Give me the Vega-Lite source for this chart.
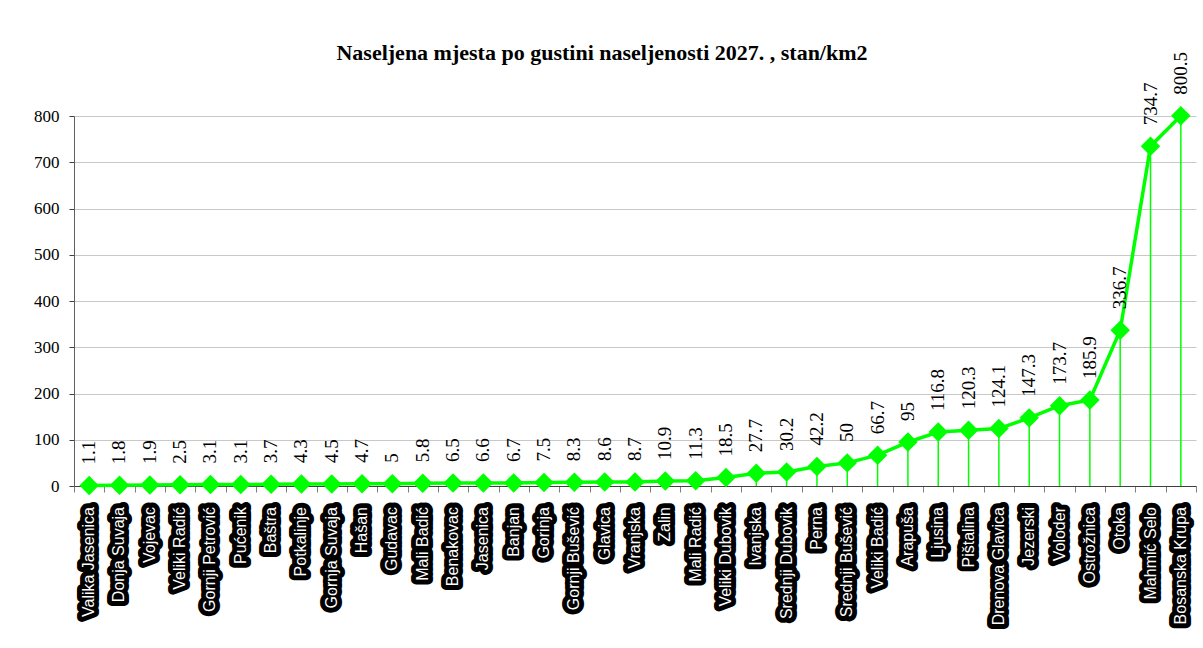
{
  "$schema": "https://vega.github.io/schema/vega-lite/v6.json",
  "autosize": {"type": "none"},
  "padding": {"left": 74, "top": 116, "right": 7, "bottom": 162},
  "width": 1122,
  "height": 370,
  "background": "white",
  "title": {
    "text": "Naseljena mjesta po gustini naseljenosti 2027. , stan/km2",
    "font": "Liberation Serif",
    "fontSize": 22,
    "fontWeight": "bold",
    "color": "black",
    "anchor": "middle",
    "dx": -33,
    "offset": -13
  },
  "config": {
    "view": {"stroke": null},
    "axis": {"labelFont": "Liberation Serif", "labelColor": "black"}
  },
  "data": {
    "values": [
      {"naselje": "Valika Jasenica", "gustina": 1.1},
      {"naselje": "Donja Suvaja", "gustina": 1.8},
      {"naselje": "Vojevac", "gustina": 1.9},
      {"naselje": "Veliki Radić", "gustina": 2.5},
      {"naselje": "Gornji Petrović", "gustina": 3.1},
      {"naselje": "Pućenik", "gustina": 3.1},
      {"naselje": "Baštra", "gustina": 3.7},
      {"naselje": "Potkalinje", "gustina": 4.3},
      {"naselje": "Gornja Suvaja", "gustina": 4.5},
      {"naselje": "Hašan", "gustina": 4.7},
      {"naselje": "Gudavac", "gustina": 5},
      {"naselje": "Mali Badić", "gustina": 5.8},
      {"naselje": "Benakovac", "gustina": 6.5},
      {"naselje": "Jasenica", "gustina": 6.6},
      {"naselje": "Banjan", "gustina": 6.7},
      {"naselje": "Gorinja", "gustina": 7.5},
      {"naselje": "Gornji Bušević", "gustina": 8.3},
      {"naselje": "Glavica", "gustina": 8.6},
      {"naselje": "Vranjska", "gustina": 8.7},
      {"naselje": "Zalin", "gustina": 10.9},
      {"naselje": "Mali Radić", "gustina": 11.3},
      {"naselje": "Veliki Dubovik", "gustina": 18.5},
      {"naselje": "Ivanjska", "gustina": 27.7},
      {"naselje": "Srednji Dubovik", "gustina": 30.2},
      {"naselje": "Perna", "gustina": 42.2},
      {"naselje": "Srednji Bušević", "gustina": 50},
      {"naselje": "Veliki Badić", "gustina": 66.7},
      {"naselje": "Arapuša", "gustina": 95},
      {"naselje": "Ljusina", "gustina": 116.8},
      {"naselje": "Pištalina", "gustina": 120.3},
      {"naselje": "Drenova Glavica", "gustina": 124.1},
      {"naselje": "Jezerski", "gustina": 147.3},
      {"naselje": "Voloder", "gustina": 173.7},
      {"naselje": "Ostrožnica", "gustina": 185.9},
      {"naselje": "Otoka", "gustina": 336.7},
      {"naselje": "Mahmić Selo", "gustina": 734.7},
      {"naselje": "Bosanska Krupa", "gustina": 800.5}
    ]
  },
  "encoding": {
    "x": {
      "field": "naselje",
      "type": "nominal",
      "sort": null,
      "bandPosition": 0.5,
      "scale": {"type": "band", "paddingInner": 0, "paddingOuter": 0},
      "axis": {
        "title": null,
        "labels": false,
        "tickBand": "extent",
        "tickSize": 6,
        "tickColor": "#808080",
        "domainColor": "#404040",
        "domainWidth": 1
      }
    },
    "y": {
      "field": "gustina",
      "type": "quantitative",
      "scale": {"domain": [0, 800], "nice": false},
      "axis": {
        "title": null,
        "values": [0, 100, 200, 300, 400, 500, 600, 700, 800],
        "labelFontSize": 17,
        "labelPadding": 10,
        "tickSize": 5,
        "tickColor": "#404040",
        "domainColor": "#606060",
        "gridColor": "#c8c8c8",
        "gridWidth": 1
      }
    }
  },
  "layer": [
    {
      "mark": {"type": "rule", "color": "#00ff00", "strokeWidth": 1.5},
      "encoding": {"y2": {"datum": 0}}
    },
    {
      "mark": {"type": "line", "color": "#00ff00", "strokeWidth": 3.5}
    },
    {
      "mark": {"type": "point", "shape": "diamond", "filled": true, "color": "#00ff00", "opacity": 1, "size": 380}
    },
    {
      "mark": {"type": "text", "angle": 270, "align": "left", "baseline": "middle", "dx": 21, "font": "Liberation Serif", "fontSize": 19, "color": "black"},
      "encoding": {"text": {"field": "gustina", "type": "quantitative", "format": ".4~f"}}
    },
    {
      "mark": {"type": "text", "angle": 270, "align": "right", "baseline": "middle", "dx": -21, "font": "Liberation Sans", "fontSize": 16, "color": "black", "stroke": "black", "strokeWidth": 10, "strokeJoin": "round"},
      "encoding": {"text": {"field": "naselje"}, "y": {"datum": 0}}
    },
    {
      "mark": {"type": "text", "angle": 270, "align": "right", "baseline": "middle", "dx": -21, "font": "Liberation Sans", "fontSize": 16, "color": "white"},
      "encoding": {"text": {"field": "naselje"}, "y": {"datum": 0}}
    }
  ]
}
